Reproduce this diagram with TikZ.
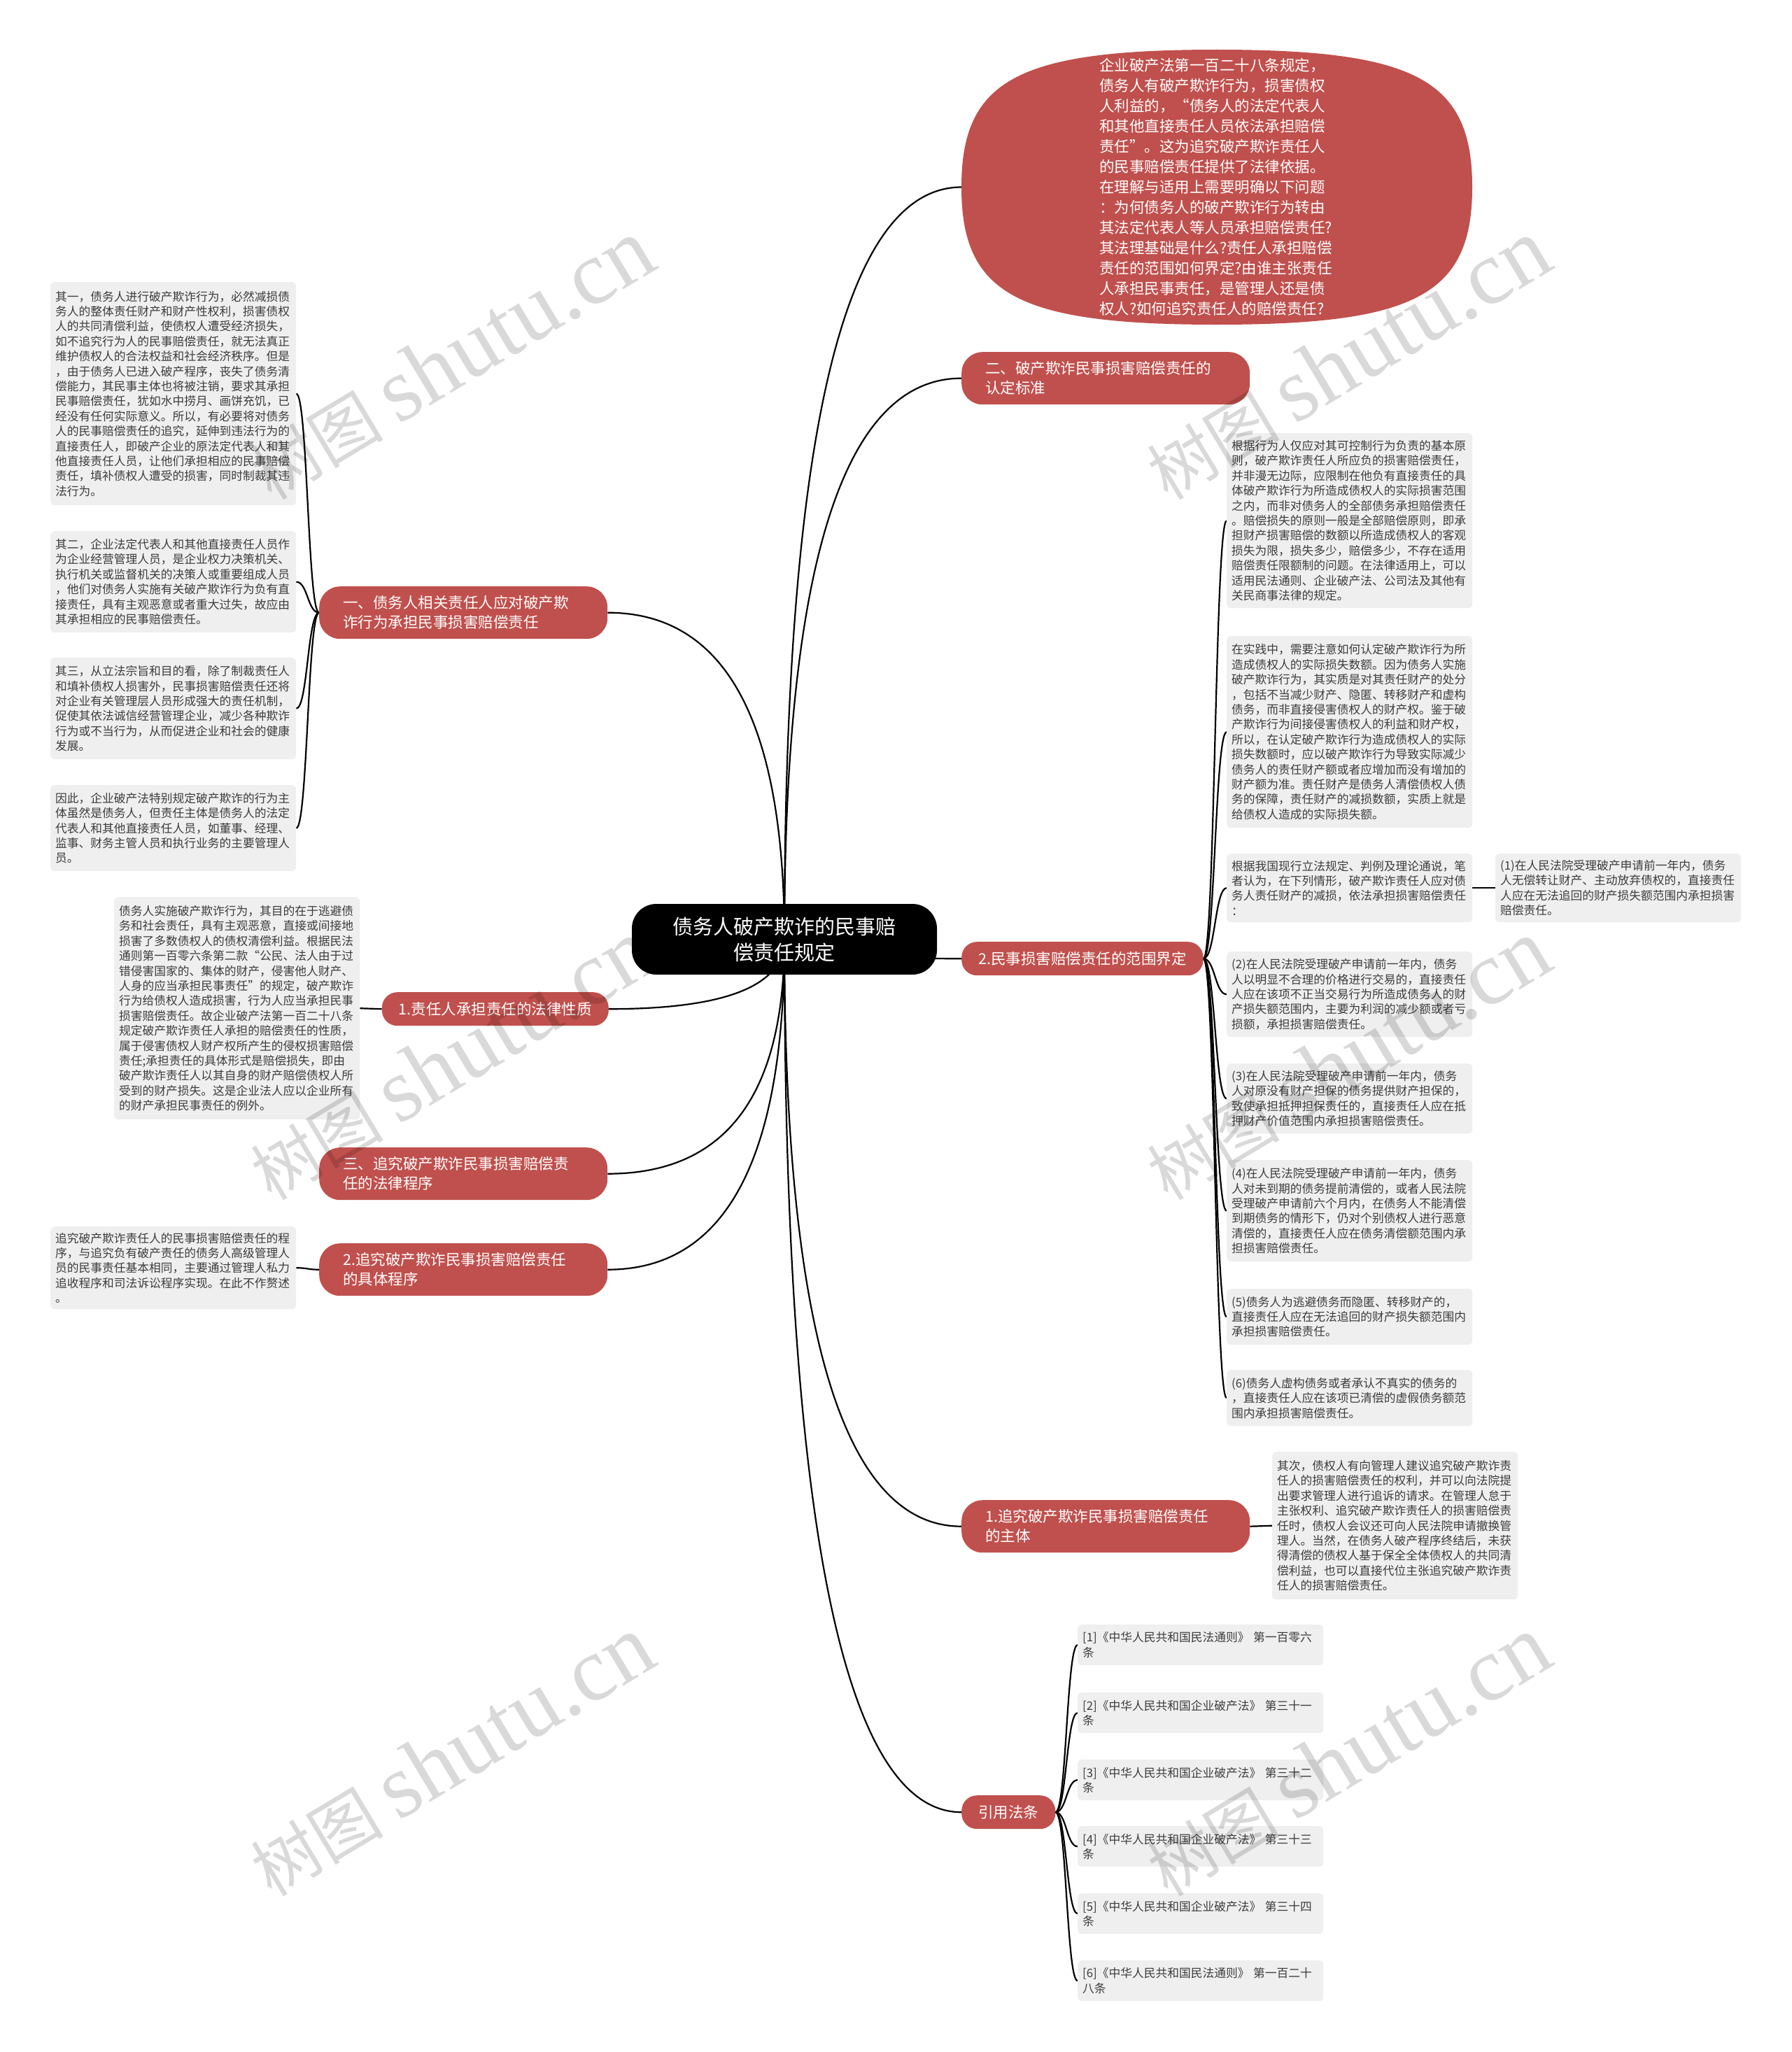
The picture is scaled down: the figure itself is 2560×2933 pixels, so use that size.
\documentclass[tikz,border=0pt]{standalone}
\usepackage{fontspec}
\setmainfont{Noto Sans CJK SC}
\newfontfamily\wmlatin{Liberation Serif}
\usetikzlibrary{calc,backgrounds}
\definecolor{nodered}{RGB}{192,80,77}
\definecolor{leafbg}{RGB}{239,239,239}
\definecolor{leaftext}{RGB}{60,60,60}
\tikzset{
  leafbox/.style={fill=leafbg, rounded corners=6pt, text=leaftext,
    font=\fontsize{16.75}{21.4}\selectfont, text width=337pt, inner xsep=7pt,
    inner ysep=0pt, align=left, anchor=north west},
  rednode/.style={fill=nodered, text=white, font=\fontsize{21.5}{28}\selectfont,
    inner ysep=0pt, anchor=north west},
  redtwo/.style={rednode, rounded corners=30pt, text width=344pt, inner xsep=34pt,
    align=left, minimum height=75pt},
  redone/.style={rednode, rounded corners=22pt, inner xsep=24pt, minimum height=48pt},
  conn/.style={line width=2.2pt, draw=black},
}
\newcommand\rootlink[1]{%
  \draw[conn] let \p1=(root.center), \p2=(#1) in (\p1) .. controls (\x1,{\y1+0.667*(\y2-\y1)}) and ({\x2+0.667*(\x1-\x2)},\y2) .. (\p2);}
\newcommand\leaflink[2]{%
  \draw[conn] let \p1=(#1), \p2=(#2) in (\p1) .. controls ({0.5*\x1+0.5*\x2},\y1) and ({0.5*\x1+0.5*\x2},\y2) .. (\p2);}
\begin{document}
\begin{tikzpicture}[x=1pt,y=-1pt]
\begin{scope}[on background layer]
\fill[white] (0,0) rectangle (2560,2933);
\end{scope}
\useasboundingbox (0,0) rectangle (2560,2933);

% root
\node[fill=black, text=white, rounded corners=35pt, minimum width=436pt, minimum height=101pt,
  inner sep=0pt, font=\fontsize{29}{37}\selectfont, align=center] (root) at (1121,1342.5)
  {债务人破产欺诈的民事赔\\偿责任规定};

% top rounded (superellipse) shape
\fill[nodered] (2104,267.5) .. controls (2104,{267.5-0.78*196.5}) and ({1739+0.78*365},71) .. (1739,71)
  .. controls ({1739-0.78*365},71) and (1374,{267.5-0.78*196.5}) .. (1374,267.5)
  .. controls (1374,{267.5+0.78*196.5}) and ({1739-0.78*365},464) .. (1739,464)
  .. controls ({1739+0.78*365},464) and (2104,{267.5+0.78*196.5}) .. (2104,267.5) -- cycle;
\node[text=white, font=\fontsize{21.5}{29}\selectfont, text width=336pt, align=left, inner sep=0pt] (top) at (1739,267.5)
{企业破产法第一百二十八条规定，\\
债务人有破产欺诈行为，损害债权\\
人利益的，“债务人的法定代表人\\
和其他直接责任人员依法承担赔偿\\
责任”。这为追究破产欺诈责任人\\
的民事赔偿责任提供了法律依据。\\
在理解与适用上需要明确以下问题\\
：为何债务人的破产欺诈行为转由\\
其法定代表人等人员承担赔偿责任?\\
其法理基础是什么?责任人承担赔偿\\
责任的范围如何界定?由谁主张责任\\
人承担民事责任，是管理人还是债\\
权人?如何追究责任人的赔偿责任?};
\coordinate (topw) at (1374,267.5);

% right red nodes
\node[redtwo] (n2) at (1374,503) {二、破产欺诈民事损害赔偿责任的\\认定标准};
\node[redone] (n2b) at (1374,1346) {2.民事损害赔偿责任的范围界定};
\node[redtwo] (n3) at (1374,2144) {1.追究破产欺诈民事损害赔偿责任\\的主体};
\node[redone] (n4) at (1374,2566) {引用法条};

% left red nodes
\node[redtwo] (m1) at (456,838) {一、债务人相关责任人应对破产欺\\诈行为承担民事损害赔偿责任};
\node[redone, anchor=north east] (m2) at (870,1418) {1.责任人承担责任的法律性质};
\node[redtwo] (m3) at (456,1640) {三、追究破产欺诈民事损害赔偿责\\任的法律程序};
\node[redtwo] (m4) at (456,1777) {2.追究破产欺诈民事损害赔偿责任\\的具体程序};

% left leaves
\node[leafbox, minimum height=319pt] (l1) at (72,403) {其一，债务人进行破产欺诈行为，必然减损债\\
务人的整体责任财产和财产性权利，损害债权\\
人的共同清偿利益，使债权人遭受经济损失，\\
如不追究行为人的民事赔偿责任，就无法真正\\
维护债权人的合法权益和社会经济秩序。但是\\
，由于债务人已进入破产程序，丧失了债务清\\
偿能力，其民事主体也将被注销，要求其承担\\
民事赔偿责任，犹如水中捞月、画饼充饥，已\\
经没有任何实际意义。所以，有必要将对债务\\
人的民事赔偿责任的追究，延伸到违法行为的\\
直接责任人，即破产企业的原法定代表人和其\\
他直接责任人员，让他们承担相应的民事赔偿\\
责任，填补债权人遭受的损害，同时制裁其违\\
法行为。};
\node[leafbox, minimum height=145pt] (l2) at (72,759) {其二，企业法定代表人和其他直接责任人员作\\
为企业经营管理人员，是企业权力决策机关、\\
执行机关或监督机关的决策人或重要组成人员\\
，他们对债务人实施有关破产欺诈行为负有直\\
接责任，具有主观恶意或者重大过失，故应由\\
其承担相应的民事赔偿责任。};
\node[leafbox, minimum height=145pt] (l3) at (72,940) {其三，从立法宗旨和目的看，除了制裁责任人\\
和填补债权人损害外，民事损害赔偿责任还将\\
对企业有关管理层人员形成强大的责任机制，\\
促使其依法诚信经营管理企业，减少各种欺诈\\
行为或不当行为，从而促进企业和社会的健康\\
发展。};
\node[leafbox, minimum height=123pt] (l4) at (72,1122) {因此，企业破产法特别规定破产欺诈的行为主\\
体虽然是债务人，但责任主体是债务人的法定\\
代表人和其他直接责任人员，如董事、经理、\\
监事、财务主管人员和执行业务的主要管理人\\
员。};
\node[leafbox, minimum height=318pt] (l5) at (163,1282) {债务人实施破产欺诈行为，其目的在于逃避债\\
务和社会责任，具有主观恶意，直接或间接地\\
损害了多数债权人的债权清偿利益。根据民法\\
通则第一百零六条第二款“公民、法人由于过\\
错侵害国家的、集体的财产，侵害他人财产、\\
人身的应当承担民事责任”的规定，破产欺诈\\
行为给债权人造成损害，行为人应当承担民事\\
损害赔偿责任。故企业破产法第一百二十八条\\
规定破产欺诈责任人承担的赔偿责任的性质，\\
属于侵害债权人财产权所产生的侵权损害赔偿\\
责任;承担责任的具体形式是赔偿损失，即由\\
破产欺诈责任人以其自身的财产赔偿债权人所\\
受到的财产损失。这是企业法人应以企业所有\\
的财产承担民事责任的例外。};
\node[leafbox, minimum height=118pt] (l6) at (72,1753) {追究破产欺诈责任人的民事损害赔偿责任的程\\
序，与追究负有破产责任的债务人高级管理人\\
员的民事责任基本相同，主要通过管理人私力\\
追收程序和司法诉讼程序实现。在此不作赘述\\
。};

% right leaves
\node[leafbox, minimum height=250pt] (r1) at (1753,619) {根据行为人仅应对其可控制行为负责的基本原\\
则，破产欺诈责任人所应负的损害赔偿责任，\\
并非漫无边际，应限制在他负有直接责任的具\\
体破产欺诈行为所造成债权人的实际损害范围\\
之内，而非对债务人的全部债务承担赔偿责任\\
。赔偿损失的原则一般是全部赔偿原则，即承\\
担财产损害赔偿的数额以所造成债权人的客观\\
损失为限，损失多少，赔偿多少，不存在适用\\
赔偿责任限额制的问题。在法律适用上，可以\\
适用民法通则、企业破产法、公司法及其他有\\
关民商事法律的规定。};
\node[leafbox, minimum height=274pt] (r2) at (1753,909) {在实践中，需要注意如何认定破产欺诈行为所\\
造成债权人的实际损失数额。因为债务人实施\\
破产欺诈行为，其实质是对其责任财产的处分\\
，包括不当减少财产、隐匿、转移财产和虚构\\
债务，而非直接侵害债权人的财产权。鉴于破\\
产欺诈行为间接侵害债权人的利益和财产权，\\
所以，在认定破产欺诈行为造成债权人的实际\\
损失数额时，应以破产欺诈行为导致实际减少\\
债务人的责任财产额或者应增加而没有增加的\\
财产额为准。责任财产是债务人清偿债权人债\\
务的保障，责任财产的减损数额，实质上就是\\
给债权人造成的实际损失额。};
\node[leafbox, minimum height=98pt] (r3) at (1753,1220) {根据我国现行立法规定、判例及理论通说，笔\\
者认为，在下列情形，破产欺诈责任人应对债\\
务人责任财产的减损，依法承担损害赔偿责任\\
：};
\node[leafbox, minimum height=98pt] (r3a) at (2137,1220) {(1)在人民法院受理破产申请前一年内，债务\\
人无偿转让财产、主动放弃债权的，直接责任\\
人应在无法追回的财产损失额范围内承担损害\\
赔偿责任。};
\node[leafbox, minimum height=122pt] (r4) at (1753,1360) {(2)在人民法院受理破产申请前一年内，债务\\
人以明显不合理的价格进行交易的，直接责任\\
人应在该项不正当交易行为所造成债务人的财\\
产损失额范围内，主要为利润的减少额或者亏\\
损额，承担损害赔偿责任。};
\node[leafbox, minimum height=100pt] (r5) at (1753,1520) {(3)在人民法院受理破产申请前一年内，债务\\
人对原没有财产担保的债务提供财产担保的，\\
致使承担抵押担保责任的，直接责任人应在抵\\
押财产价值范围内承担损害赔偿责任。};
\node[leafbox, minimum height=145pt] (r6) at (1753,1658) {(4)在人民法院受理破产申请前一年内，债务\\
人对未到期的债务提前清偿的，或者人民法院\\
受理破产申请前六个月内，在债务人不能清偿\\
到期债务的情形下，仍对个别债权人进行恶意\\
清偿的，直接责任人应在债务清偿额范围内承\\
担损害赔偿责任。};
\node[leafbox, minimum height=80pt] (r7) at (1753,1842) {(5)债务人为逃避债务而隐匿、转移财产的，\\
直接责任人应在无法追回的财产损失额范围内\\
承担损害赔偿责任。};
\node[leafbox, minimum height=80pt] (r8) at (1753,1958) {(6)债务人虚构债务或者承认不真实的债务的\\
，直接责任人应在该项已清偿的虚假债务额范\\
围内承担损害赔偿责任。};
\node[leafbox, minimum height=211pt] (r9) at (1818,2075) {其次，债权人有向管理人建议追究破产欺诈责\\
任人的损害赔偿责任的权利，并可以向法院提\\
出要求管理人进行追诉的请求。在管理人怠于\\
主张权利、追究破产欺诈责任人的损害赔偿责\\
任时，债权人会议还可向人民法院申请撤换管\\
理人。当然，在债务人破产程序终结后，未获\\
得清偿的债权人基于保全全体债权人的共同清\\
偿利益，也可以直接代位主张追究破产欺诈责\\
任人的损害赔偿责任。};

% references
\node[leafbox, minimum height=58pt] (f1) at (1540,2322) {[1]《中华人民共和国民法通则》 第一百零六\\条};
\node[leafbox, minimum height=58pt] (f2) at (1540,2419) {[2]《中华人民共和国企业破产法》 第三十一\\条};
\node[leafbox, minimum height=58pt] (f3) at (1540,2515) {[3]《中华人民共和国企业破产法》 第三十二\\条};
\node[leafbox, minimum height=58pt] (f4) at (1540,2610) {[4]《中华人民共和国企业破产法》 第三十三\\条};
\node[leafbox, minimum height=58pt] (f5) at (1540,2706) {[5]《中华人民共和国企业破产法》 第三十四\\条};
\node[leafbox, minimum height=58pt] (f6) at (1540,2802) {[6]《中华人民共和国民法通则》 第一百二十\\八条};

% connectors
\begin{scope}[on background layer]
\rootlink{topw}
\rootlink{n2.west}
\rootlink{n2b.west}
\rootlink{n3.west}
\rootlink{n4.west}
\rootlink{m1.east}
\rootlink{m2.east}
\rootlink{m3.east}
\rootlink{m4.east}
\foreach \k in {r1,r2,r3,r4,r5,r6,r7,r8} {\leaflink{n2b.east}{\k.west}}
\draw[conn] (r3.east) -- (r3a.west);
\leaflink{n3.east}{r9.west}
\foreach \k in {f1,f2,f3,f4,f5,f6} {\leaflink{n4.east}{\k.west}}
\foreach \k in {l1,l2,l3,l4} {\leaflink{m1.west}{\k.east}}
\leaflink{m2.west}{l5.east}
\leaflink{m4.west}{l6.east}
\end{scope}

% watermarks
\foreach \wx/\wy [count=\i] in {645/514, 1926/514, 645/1515, 1926/1515, 645/2510, 1926/2510}
  \node[rotate=31, text=black, opacity=0.15, inner sep=0pt] (wm\i) at (\wx,\wy)
    {\fontsize{95}{95}\selectfont 树图 {\wmlatin\fontsize{130}{130}\selectfont shutu.cn}};
\end{tikzpicture}
\end{document}
